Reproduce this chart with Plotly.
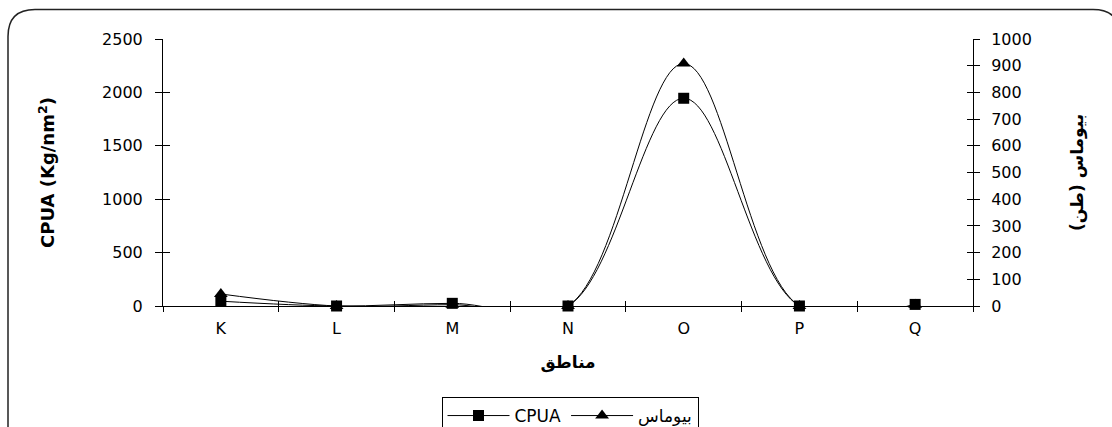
import plotly.graph_objects as go

categories = ["K", "L", "M", "N", "O", "P", "Q"]
cpua = [45, 0, 25, 0, 1945, 0, 15]
biomass = [45, 0, 5, 0, 908, 0, 5]
left_ticks = [0, 500, 1000, 1500, 2000, 2500]
right_ticks = [0, 100, 200, 300, 400, 500, 600, 700, 800, 900, 1000]

FONT = "DejaVu Sans, Liberation Sans, Arial, sans-serif"
W, H = 1112, 427
L, R, T, B = 163, 139, 39, 121
PW, PH = W - L - R, H - T - B


def px(x):
    return (x - L) / PW


def py(y):
    return (H - B - y) / PH


fig = go.Figure()
fig.add_trace(go.Scatter(
    x=categories, y=cpua, name="CPUA", mode="lines+markers",
    line=dict(color="black", width=1, shape="spline", smoothing=1),
    marker=dict(symbol="square", size=11, color="black"),
    xaxis="x", yaxis="y", cliponaxis=False))
fig.add_trace(go.Scatter(
    x=categories, y=biomass, name="بيوماس", mode="lines+markers",
    line=dict(color="black", width=1, shape="spline", smoothing=1),
    marker=dict(symbol="triangle-up", size=12, color="black"),
    xaxis="x", yaxis="y2", cliponaxis=False))
# dummy traces to hold the overlay axes that draw the inner half of the ticks
fig.add_trace(go.Scatter(x=[categories[0]], y=[None], xaxis="x", yaxis="y3",
                         showlegend=False, hoverinfo="skip"))
fig.add_trace(go.Scatter(x=[categories[0]], y=[None], xaxis="x", yaxis="y4",
                         showlegend=False, hoverinfo="skip"))
fig.add_trace(go.Scatter(x=[0], y=[None], xaxis="x2", yaxis="y",
                         showlegend=False, hoverinfo="skip"))

tickfont = dict(family=FONT, size=16, color="black")
titlefont = dict(family=FONT, size=17, color="black", weight="bold")

n = len(categories)
fig.update_layout(
    width=W, height=H,
    margin=dict(l=L, r=R, t=T, b=B, autoexpand=False),
    paper_bgcolor="white", plot_bgcolor="white",
    showlegend=True,
    legend=dict(orientation="h", x=px(570), xanchor="center", y=py(397), yanchor="top",
                bordercolor="black", borderwidth=1, font=dict(family=FONT, size=17, color="black"),
                itemwidth=62, traceorder="normal"),
    xaxis=dict(type="category", categoryorder="array", categoryarray=categories,
               range=[-0.5, n - 0.5], showline=True, linecolor="black", linewidth=1,
               ticks="outside", tickson="boundaries", ticklen=5, tickcolor="black",
               showgrid=False, zeroline=False, tickfont=tickfont, ticklabelstandoff=8,
               title=dict(text="مناطق", font=titlefont, standoff=18)),
    xaxis2=dict(overlaying="x", anchor="y", range=[-0.5, n - 0.5],
                tickvals=[i + 0.5 for i in range(n - 1)], ticks="inside", ticklen=5,
                tickcolor="black", showticklabels=False, showgrid=False, zeroline=False,
                showline=False),
    yaxis=dict(range=[0, 2500], tickvals=left_ticks, showline=True, linecolor="black",
               linewidth=1, ticks="outside", ticklen=7, tickcolor="black", showgrid=False,
               zeroline=False, tickfont=tickfont, ticklabelstandoff=9,
               title=dict(text="CPUA (Kg/nm<sup>2</sup>)",
                          font=dict(family=FONT, size=18, color="black", weight="bold"),
                          standoff=42)),
    yaxis2=dict(range=[0, 1000], tickvals=right_ticks, overlaying="y", side="right",
                anchor="x", showline=True, linecolor="black", linewidth=1,
                ticks="outside", ticklen=6, tickcolor="black", showgrid=False,
                zeroline=False, tickfont=tickfont, ticklabelstandoff=8,
                title=dict(text="بيوماس (طن)", font=titlefont, standoff=40)),
    yaxis3=dict(range=[0, 2500], tickvals=left_ticks, overlaying="y", side="left",
                anchor="x", ticks="inside", ticklen=7, tickcolor="black",
                showticklabels=False, showgrid=False, zeroline=False, showline=False),
    yaxis4=dict(range=[0, 1000], tickvals=right_ticks, overlaying="y", side="right",
                anchor="x", ticks="inside", ticklen=6, tickcolor="black",
                showticklabels=False, showgrid=False, zeroline=False, showline=False),
)

# rounded chart frame (extends past the right and bottom edges of the page)
x0, y0, x1, y1, r = 8, 9.5, 1120, 440, 27
path = (f"M {px(x0)},{py(y1)} L {px(x0)},{py(y0 + r)} "
        f"Q {px(x0)},{py(y0)} {px(x0 + r)},{py(y0)} "
        f"L {px(x1 - r)},{py(y0)} Q {px(x1)},{py(y0)} {px(x1)},{py(y0 + r)} "
        f"L {px(x1)},{py(y1)}")
fig.add_shape(type="path", xref="paper", yref="paper", path=path,
              line=dict(color="#222222", width=1.5), layer="below")

fig.write_html("out.html")
